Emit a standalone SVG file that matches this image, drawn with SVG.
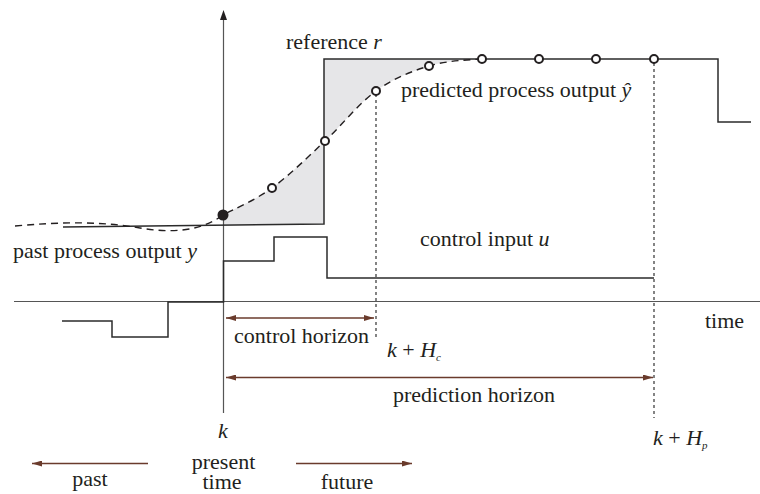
<svg xmlns="http://www.w3.org/2000/svg" width="760" height="494" viewBox="0 0 760 494">
<defs>
<marker id="ah" viewBox="0 0 10 6" refX="10" refY="3" markerWidth="10" markerHeight="6" markerUnits="userSpaceOnUse" orient="auto-start-reverse">
<path d="M0,0 L10,3 L0,6 Z" fill="#6a3b2c"/>
</marker>
</defs>
<g id="fill">
<path d="M223,215 C234.5,208.7 255,200.3 272,188 C289,175.7 307.7,157.2 325,141 C342.3,124.8 358.7,103.5 376,91 C393.3,78.5 411.3,71.3 429,66 C446.7,60.7 463.7,60.2 482,59 L324,59 L324,224 L223,225 Z" fill="#e6e6e8"/>
</g>
<g id="axes" fill="none" stroke="#555" stroke-width="1.2">
<line x1="14" y1="301.5" x2="760" y2="301.5"/>
<line x1="223.5" y1="413" x2="223.5" y2="16"/>
<path d="M220,20 L223.5,10 L227,20 Z" fill="#231f20" stroke="none"/>
</g>
<g id="reference" fill="none" stroke="#2b2b2b" stroke-width="1.5">
<path d="M63,227 L324,224 L324,59 L718,59 L718,122 L751,122"/>
</g>
<g id="control-input" fill="none" stroke="#2b2b2b" stroke-width="1.5">
<path d="M62,321 L112,321 L112,337 L168,337 L168,302 L223.5,302 L223.5,261 L274,261 L274,237 L327,237 L327,278 L654,278"/>
</g>
<g id="horizon-lines" fill="none" stroke="#333" stroke-width="1.2" stroke-dasharray="3 3">
<line x1="376" y1="94" x2="376" y2="338"/>
<line x1="654" y1="63" x2="654" y2="418"/>
</g>
<g id="predicted">
<path d="M15,226 C60,222 100,221 140,228 C170,233 200,232 223,215 C234.5,208.7 255,200.3 272,188 C289,175.7 307.7,157.2 325,141 C342.3,124.8 358.7,103.5 376,91 C393.3,78.5 411.3,71.3 429,66 C446.7,60.7 463.7,60.2 482,59" fill="none" stroke="#231f20" stroke-width="1.4" stroke-dasharray="7 5"/>
<circle cx="223" cy="215" r="5.5" fill="#231f20"/>
<g fill="#fff" stroke="#231f20" stroke-width="2">
<circle cx="272" cy="188" r="4"/>
<circle cx="325" cy="141" r="4"/>
<circle cx="376" cy="91" r="4"/>
<circle cx="429" cy="66" r="4"/>
<circle cx="482" cy="59" r="4"/>
<circle cx="539" cy="59" r="4"/>
<circle cx="596" cy="59" r="4"/>
<circle cx="654" cy="59" r="4"/>
</g>
</g>
<g id="connectors" fill="none" stroke="#6a3b2c" stroke-width="1.4">
<line x1="226" y1="318" x2="374" y2="318" marker-start="url(#ah)" marker-end="url(#ah)"/>
<line x1="226" y1="377.5" x2="653" y2="377.5" marker-start="url(#ah)" marker-end="url(#ah)"/>
<line x1="148" y1="463.5" x2="32" y2="463.5" marker-end="url(#ah)"/>
<line x1="296" y1="463.5" x2="412" y2="463.5" marker-end="url(#ah)"/>
</g>
<g id="labels" font-family="Times New Roman, Liberation Serif, serif" font-size="22" fill="#231f20">
<text x="286" y="49">reference <tspan font-style="italic">r</tspan></text>
<text x="401" y="97">predicted process output <tspan font-style="italic">ŷ</tspan></text>
<text x="420" y="246">control input <tspan font-style="italic">u</tspan></text>
<text x="13" y="258">past process output <tspan font-style="italic">y</tspan></text>
<text x="705" y="328">time</text>
<text x="234" y="343">control horizon</text>
<text x="387" y="357"><tspan font-style="italic">k</tspan> + <tspan font-style="italic">H</tspan><tspan font-style="italic" font-size="11" dy="4">c</tspan></text>
<text x="393" y="402">prediction horizon</text>
<text font-style="italic" x="223" y="438" text-anchor="middle">k</text>
<text x="653" y="445"><tspan font-style="italic">k</tspan> + <tspan font-style="italic">H</tspan><tspan font-style="italic" font-size="11" dy="4">p</tspan></text>
<text x="223.5" y="469" text-anchor="middle">present</text>
<text x="222" y="489" text-anchor="middle">time</text>
<text x="90" y="486" text-anchor="middle">past</text>
<text x="347" y="489" text-anchor="middle">future</text>
</g>
</svg>
